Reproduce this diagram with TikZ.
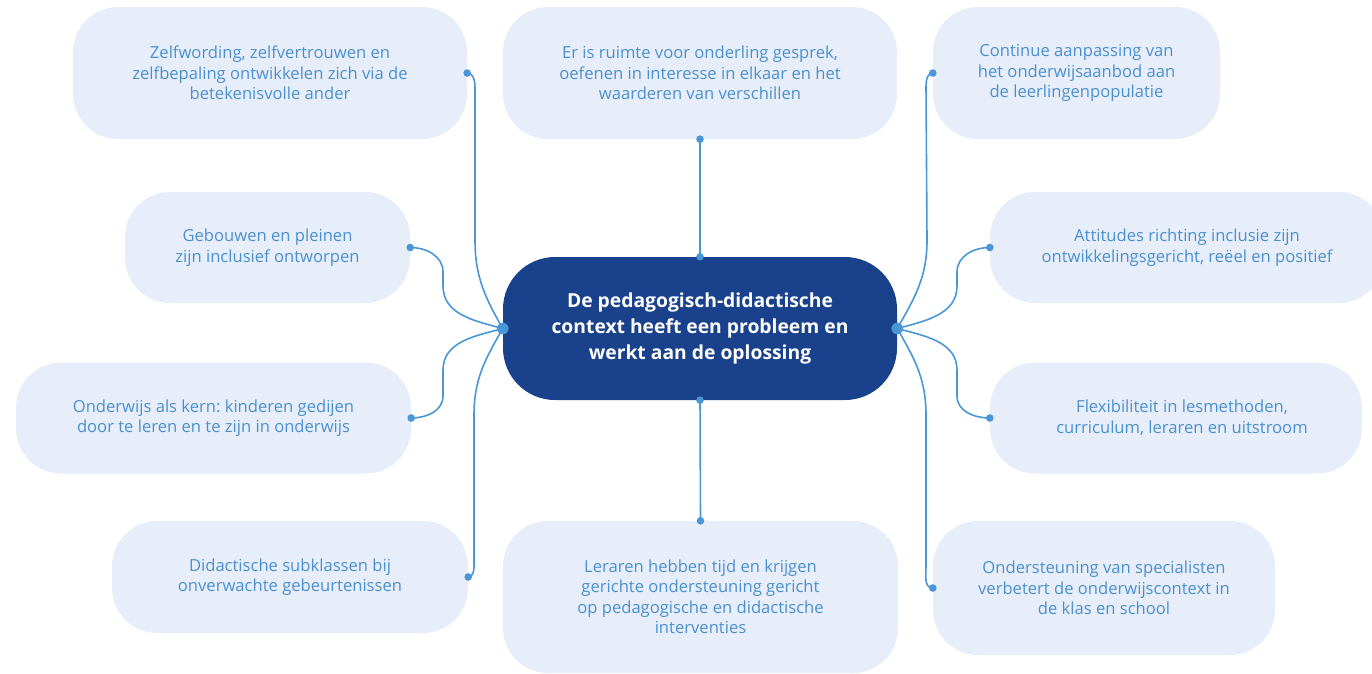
\documentclass[tikz,border=0pt]{standalone}
\usepackage{fontspec}
\setmainfont{Open Sans}
\frenchspacing
\definecolor{boxfill}{HTML}{E7EEF9}
\definecolor{txtblue}{HTML}{4A90D0}
\definecolor{linkblue}{HTML}{4A96D6}
\definecolor{coreblue}{HTML}{1A418B}
\begin{document}
\begin{tikzpicture}[x=1pt,y=-1pt,
  leaf/.style={fill=boxfill, rounded corners=45pt, text=txtblue, align=center,
    font=\fontsize{16.6}{20.5}\selectfont, inner sep=0pt},
  corebox/.style={fill=coreblue, rounded corners=52pt, text=white, align=center,
    font=\fontsize{19.3}{26}\selectfont\bfseries, inner sep=0pt,
    minimum width=394pt, minimum height=143pt},
  conn/.style={draw=linkblue, line width=1.6pt},
  knob/.style={fill=linkblue}
]
\useasboundingbox (0,0) rectangle (1372,673);

\node[corebox] (c) at (700,328.5) {De pedagogisch-didactische\\context heeft een probleem en\\werkt aan de oplossing};

\node[leaf, minimum width=394pt, minimum height=132pt] (tl) at (270,73)
  {Zelfwording, zelfvertrouwen en\\zelfbepaling ontwikkelen zich via de\\betekenisvolle ander};
\node[leaf, minimum width=394pt, minimum height=132pt] (tc) at (700,73)
  {Er is ruimte voor onderling gesprek,\\oefenen in interesse in elkaar en het\\waarderen van verschillen};
\node[leaf, minimum width=287pt, minimum height=132pt] (tr) at (1076.5,73)
  {Continue aanpassing van\\het onderwijsaanbod aan\\de leerlingenpopulatie};
\node[leaf, minimum width=285pt, minimum height=111pt] (l2) at (267.5,247.5)
  {Gebouwen en pleinen\\zijn inclusief ontworpen};
\node[leaf, minimum width=394pt, minimum height=111pt] (r2) at (1187,247.5)
  {Attitudes richting inclusie zijn\\ontwikkelingsgericht, reëel en positief};
\node[leaf, minimum width=395pt, minimum height=111pt] (l3) at (213.5,418)
  {Onderwijs als kern: kinderen gedijen\\door te leren en te zijn in onderwijs};
\node[leaf, minimum width=372pt, minimum height=111pt] (r3) at (1176,418)
  {\hspace*{12pt}Flexibiliteit in lesmethoden,\\\hspace*{12pt}curriculum, leraren en uitstroom};
\node[leaf, minimum width=356pt, minimum height=112pt] (l4) at (290,577)
  {Didactische subklassen bij\\onverwachte gebeurtenissen};
\node[leaf, minimum width=395pt, minimum height=152pt] (bc) at (700.5,597)
  {Leraren hebben tijd en krijgen\\gerichte ondersteuning gericht\\op pedagogische en didactische\\interventies};
\node[leaf, minimum width=342pt, minimum height=134pt] (r4) at (1104,588)
  {Ondersteuning van specialisten\\verbetert de onderwijscontext in\\de klas en school};

% connectors
\draw[conn] (tc.south) -- (c.north);
\draw[conn] (c.south) -- (bc.north);
\draw[conn] (tl.east) to[out=0,in=90] (475,87) -- (475,240) to[out=-90,in=120] (c.west);
\draw[conn] (l2.east) to[out=0,in=90] (443,272) -- (443,286) to[out=-90,in=165] (c.west);
\draw[conn] (l3.east) to[out=0,in=-90] (443,396) -- (443,370) to[out=90,in=-165] (c.west);
\draw[conn] (l4.east) to[out=0,in=-90] (474,566) -- (474,415) to[out=90,in=-120] (c.west);
\draw[conn] (tr.west) to[out=180,in=90] (926,87) -- (927,240) to[out=-90,in=60] (c.east);
\draw[conn] (r2.west) to[out=180,in=90] (957,272) -- (957,286) to[out=-90,in=15] (c.east);
\draw[conn] (r3.west) to[out=180,in=-90] (957,396) -- (957,370) to[out=90,in=-15] (c.east);
\draw[conn] (r4.west) to[out=180,in=-90] (926,566) -- (926,415) to[out=90,in=-60] (c.east);

% dots
\foreach \p in {tl.east,l2.east,l3.east,l4.east,tr.west,r2.west,r3.west,r4.west,tc.south,bc.north,c.north,c.south}
  \fill[knob] (\p) circle (3.8pt);
\fill[knob] (c.west) circle (5.8pt);
\fill[knob] (c.east) circle (5.8pt);
\end{tikzpicture}
\end{document}
